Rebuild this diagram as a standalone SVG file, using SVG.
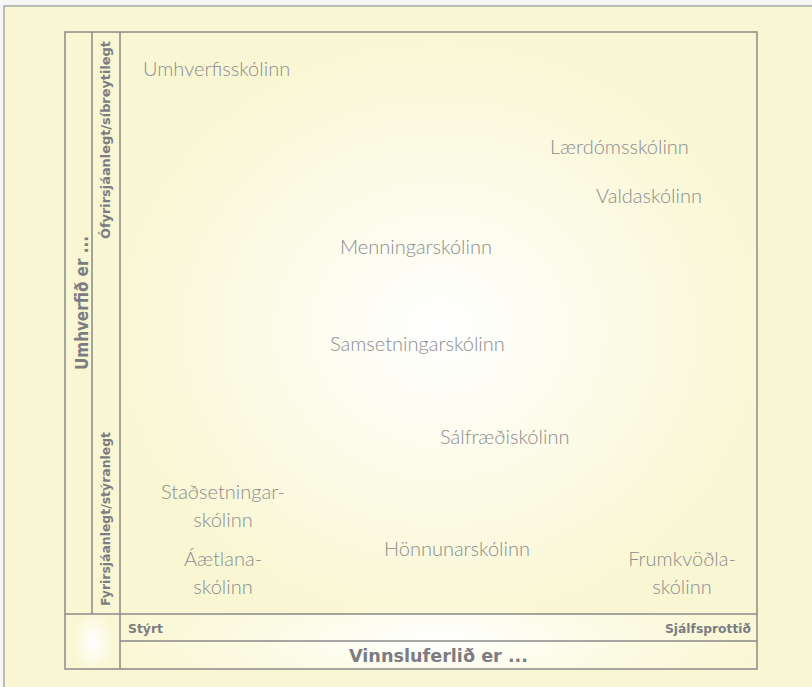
<svg xmlns="http://www.w3.org/2000/svg" width="812" height="687" viewBox="0 0 812 687">
  <defs>
    <radialGradient id="glowMain" cx="440" cy="330" r="330" gradientUnits="userSpaceOnUse" gradientTransform="translate(440 330) scale(1 0.9) translate(-440 -330)">
      <stop offset="0" stop-color="#ffffff"/>
      <stop offset="0.35" stop-color="#fdfcef"/>
      <stop offset="1" stop-color="#f9f7d3"/>
    </radialGradient>
    <radialGradient id="glowRow" cx="438" cy="641" r="330" gradientUnits="userSpaceOnUse" gradientTransform="translate(438 641) scale(1 0.25) translate(-438 -641)">
      <stop offset="0" stop-color="#ffffff"/>
      <stop offset="0.5" stop-color="#fcfbe6"/>
      <stop offset="1" stop-color="#f9f7d3"/>
    </radialGradient>
    <radialGradient id="glowCell" cx="93" cy="642" r="26" gradientUnits="userSpaceOnUse" gradientTransform="translate(93 642) scale(0.8 1.2) translate(-93 -642)">
      <stop offset="0" stop-color="#ffffff"/>
      <stop offset="1" stop-color="#f9f7d3"/>
    </radialGradient>
    <style>
      .frame { fill: none; stroke: #8a8a8a; stroke-width: 1.5; }
      .school { font-family: "Lato", "Liberation Sans", sans-serif; font-weight: 300; font-size: 20px; fill: #8c8c90; }
      .axis { font-family: "DejaVu Sans", "Liberation Sans", sans-serif; font-weight: bold; fill: #7c7c82; }
      .big { font-size: 17px; }
      .small { font-size: 11.5px; }
    </style>
  </defs>

  <!-- page background -->
  <rect x="0" y="0" width="812" height="687" fill="#f6f6f4"/>
  <rect x="4" y="6" width="820" height="700" fill="#f9f7d3" stroke="#a6a6a6" stroke-width="1.5"/>

  <!-- soft glows inside the grid -->
  <rect x="120" y="32" width="637" height="582" fill="url(#glowMain)"/>
  <rect x="120" y="614" width="637" height="55" fill="url(#glowRow)"/>
  <rect x="65" y="614" width="55" height="55" fill="url(#glowCell)"/>

  <!-- grid frame -->
  <g id="frame">
    <rect class="frame" x="65" y="32" width="692" height="637"/>
    <line class="frame" x1="92" y1="32" x2="92" y2="614"/>
    <line class="frame" x1="120" y1="32" x2="120" y2="669"/>
    <line class="frame" x1="65" y1="614" x2="757" y2="614"/>
    <line class="frame" x1="120" y1="641" x2="757" y2="641"/>
  </g>

  <!-- axis labels -->
  <g id="axis-y">
    <text class="axis big" transform="translate(88 370) rotate(-90)" textLength="134" lengthAdjust="spacingAndGlyphs">Umhverfið er ...</text>
    <text class="axis small" transform="translate(110 239) rotate(-90)" textLength="198" lengthAdjust="spacingAndGlyphs">Ófyrirsjáanlegt/síbreytilegt</text>
    <text class="axis small" transform="translate(110 606) rotate(-90)" textLength="174" lengthAdjust="spacingAndGlyphs">Fyrirsjáanlegt/stýranlegt</text>
  </g>
  <g id="axis-x">
    <text class="axis small" x="128" y="633" textLength="35" lengthAdjust="spacingAndGlyphs">Stýrt</text>
    <text class="axis small" x="665" y="633" textLength="86" lengthAdjust="spacingAndGlyphs">Sjálfsprottið</text>
    <text class="axis big" x="349" y="662" textLength="179" lengthAdjust="spacingAndGlyphs">Vinnsluferlið er ...</text>
  </g>

  <!-- schools -->
  <g id="umhverfisskolinn"><text class="school" x="143" y="76">Umhverfisskólinn</text></g>
  <g id="laerdomsskolinn"><text class="school" x="550" y="154">Lærdómsskólinn</text></g>
  <g id="valdaskolinn"><text class="school" x="596" y="203">Valdaskólinn</text></g>
  <g id="menningarskolinn"><text class="school" x="340" y="254">Menningarskólinn</text></g>
  <g id="samsetningarskolinn"><text class="school" x="330" y="351">Samsetningarskólinn</text></g>
  <g id="salfraediskolinn"><text class="school" x="440" y="444">Sálfræðiskólinn</text></g>
  <g id="stadsetningarskolinn">
    <text class="school" x="223" y="499" text-anchor="middle">Staðsetningar-</text>
    <text class="school" x="223" y="527" text-anchor="middle">skólinn</text>
  </g>
  <g id="aetlanaskolinn">
    <text class="school" x="223" y="566" text-anchor="middle">Áætlana-</text>
    <text class="school" x="223" y="594" text-anchor="middle">skólinn</text>
  </g>
  <g id="honnunarskolinn"><text class="school" x="384" y="556">Hönnunarskólinn</text></g>
  <g id="frumkvodlaskolinn">
    <text class="school" x="682" y="566" text-anchor="middle">Frumkvöðla-</text>
    <text class="school" x="682" y="594" text-anchor="middle">skólinn</text>
  </g>
</svg>
